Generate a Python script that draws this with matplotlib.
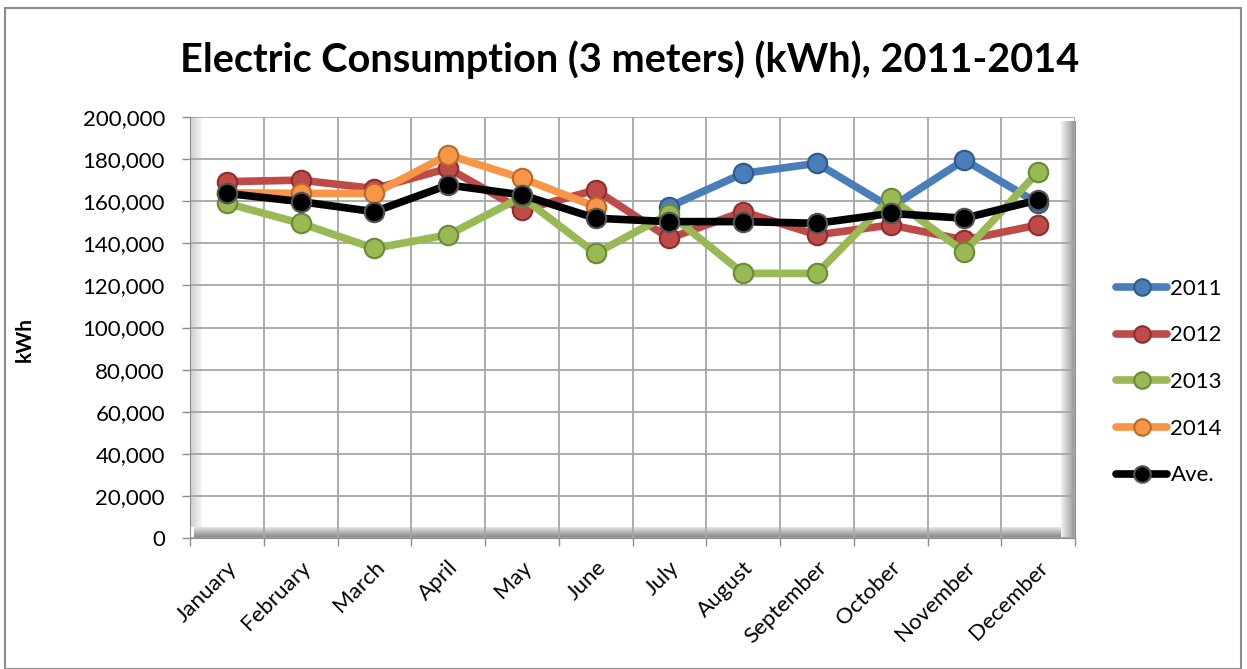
import matplotlib
matplotlib.use("Agg")
import matplotlib.pyplot as plt
import numpy as np
from matplotlib.patches import Rectangle
from matplotlib.ticker import FuncFormatter, FixedLocator

months = ["January", "February", "March", "April", "May", "June", "July",
          "August", "September", "October", "November", "December"]
nan = np.nan
y2011 = [nan, nan, nan, nan, nan, nan, 157400, 173200, 178000, 157000, 179600, 159000]
y2012 = [169300, 170000, 166000, 175600, 155800, 165300, 142400, 155000, 144000, 148700, 141600, 148700]
y2013 = [159000, 149500, 137600, 144000, 162000, 135200, 154000, 125700, 125700, 161400, 136000, 174000]
y2014 = [164000, 163700, 163700, 182000, 170900, 157400, nan, nan, nan, nan, nan, nan]
yave = [163700, 159800, 155000, 167700, 163000, 151900, 150300, 150300, 149500, 154200, 151900, 160600]

series = [("2011", y2011, "#4a7ebb"), ("2012", y2012, "#be4b48"),
          ("2013", y2013, "#98b954"), ("2014", y2014, "#f79646"),
          ("Ave.", yave, "#000000")]
edges = {"#4a7ebb": "#2f5a8a", "#be4b48": "#8a2f2d", "#98b954": "#6b8a35",
         "#f79646": "#b86a2a", "#000000": "#555555"}

W, H = 1247, 669
fig = plt.figure(figsize=(W / 100, H / 100), dpi=100)
fig.patch.set_facecolor("white")

# outer border
fig.add_artist(Rectangle((5 / W, 0), (1241 - 5) / W, (H - 8) / H, transform=fig.transFigure,
                         fill=False, edgecolor="#8c8c8c", linewidth=1.5))

x0, x1, yt, yb = 190, 1075, 117, 538
ax = fig.add_axes([x0 / W, 1 - yb / H, (x1 - x0) / W, (yb - yt) / H])
ax.set_facecolor("white")
x = np.arange(len(months))
ax.set_xlim(-0.5, len(months) - 0.5)
ax.set_ylim(0, 200000)


def grad_img(c_from, c_to, n=64, horizontal=True):
    t = np.linspace(0, 1, n)[:, None]
    c = (1 - t) * np.array(c_from)[None, :] + t * np.array(c_to)[None, :]
    img = c[None, :, :] if horizontal else c[:, None, :]
    return img


# left wall (light gray -> white, left to right)
ax.imshow(grad_img((0.80, 0.80, 0.80), (0.97, 0.97, 0.97)), extent=(0, 0.013, 0.025, 1),
          transform=ax.transAxes, aspect="auto", zorder=0.5, interpolation="bilinear")
# floor (top light -> bottom darker)
ax.imshow(grad_img((0.90, 0.90, 0.90), (0.50, 0.50, 0.50), horizontal=False),
          extent=(0.005, 0.985, 0.0, 0.025), transform=ax.transAxes, aspect="auto",
          zorder=0.5, interpolation="bilinear")
# right wall (white -> gray, left to right)
ax.imshow(grad_img((0.95, 0.95, 0.95), (0.55, 0.55, 0.55)), extent=(0.984, 1.0, 0.0, 0.99),
          transform=ax.transAxes, aspect="auto", zorder=0.5, interpolation="bilinear")

ax.yaxis.set_major_locator(FixedLocator(np.arange(0, 200001, 20000)))
ax.yaxis.set_major_formatter(FuncFormatter(lambda v, p: f"{int(v):,}"))
ax.set_xticks(x)
ax.set_xticklabels(months)
ax.set_xticks(np.arange(-0.5, len(months)), minor=True)
ax.grid(True, which="minor", axis="x", color="#a6a6a6", linewidth=1.3, zorder=1)
ax.grid(True, which="major", axis="y", color="#a6a6a6", linewidth=1.3, zorder=1)
ax.set_axisbelow(True)
ax.tick_params(axis="x", which="major", length=0, pad=14)
ax.tick_params(axis="x", which="minor", length=6, color="#8c8c8c", width=1)
ax.tick_params(axis="y", length=6, color="#8c8c8c", width=1, pad=12)
for lab in ax.get_xticklabels():
    lab.set_rotation(45)
    lab.set_ha("right")
    lab.set_va("top")
    lab.set_rotation_mode("anchor")
    lab.set_fontsize(16)
    lab.set_family("Lato")
for lab in ax.get_yticklabels():
    lab.set_fontsize(16)
    lab.set_family("Lato")
for s in ["top", "right"]:
    ax.spines[s].set_visible(False)
ax.spines["left"].set_color("#8c8c8c")
ax.spines["bottom"].set_color("#8c8c8c")

for i, (name, vals, col) in enumerate(series):
    ax.plot(x, vals, color=col, linewidth=5.5, marker="o", markersize=14,
            markerfacecolor=col, markeredgecolor=edges[col], markeredgewidth=1.5,
            label=name, zorder=3 + i, solid_capstyle="round", clip_on=False)

ax.set_ylabel("kWh", fontsize=15, fontweight="bold", family="Lato")
ax.yaxis.set_label_coords((35 - x0) / (x1 - x0), (yb - 340) / (yb - yt))

fig.text(630 / W, 1 - 60 / H, "Electric Consumption (3 meters) (kWh), 2011-2014",
         ha="center", va="center", fontsize=28.5, fontweight="bold", family="Lato")

leg = ax.legend(loc="center left", bbox_to_anchor=(1096 / W, 1 - 382 / H),
                bbox_transform=fig.transFigure, frameon=False,
                prop={"family": "Lato", "size": 16}, handlelength=2.3,
                handletextpad=0.15, labelspacing=1.2, markerscale=0.85)

fig.savefig("out.png", dpi=100, facecolor="white")
